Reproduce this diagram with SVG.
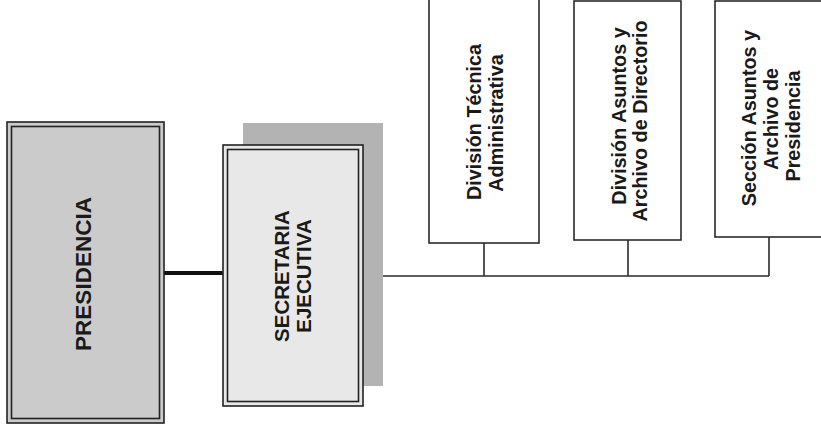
<svg xmlns="http://www.w3.org/2000/svg" width="821" height="432" viewBox="0 0 821 432">
<style>
.t{font-family:"Liberation Sans",Arial,sans-serif;font-weight:bold;fill:#1a1a1a;text-anchor:middle}
.box{fill:#ffffff;stroke:#2a2a2a;stroke-width:1.6}
.ln{stroke:#2a2a2a;stroke-width:1.6;fill:none}
</style>
<rect width="821" height="432" fill="#ffffff"/>
<g id="connectors">
<line x1="164" y1="273" x2="224" y2="273" stroke="#111" stroke-width="4"/>
<polyline class="ln" points="363,276 769,276"/>
<line class="ln" x1="484" y1="243" x2="484" y2="276"/>
<line class="ln" x1="628" y1="240" x2="628" y2="276"/>
<line class="ln" x1="769" y1="237" x2="769" y2="276"/>
</g>
<g id="presidencia">
<rect x="7" y="122" width="157" height="301" fill="#cbcbcb" stroke="#222" stroke-width="1.6"/>
<rect x="11.5" y="126.5" width="148" height="292" fill="none" stroke="#222" stroke-width="1.6"/>
<text class="t" font-size="22.5" transform="translate(91,274) rotate(-90)">PRESIDENCIA</text>
</g>
<g id="secretaria">
<rect x="243" y="123" width="140" height="263" fill="#b3b3b3"/>
<rect x="223" y="145" width="140" height="261" fill="#e8e8e8" stroke="#222" stroke-width="1.6"/>
<rect x="227.5" y="149.5" width="131" height="252" fill="none" stroke="#222" stroke-width="1.6"/>
<text class="t" font-size="20.5" transform="translate(289,276) rotate(-90)">SECRETARIA</text>
<text class="t" font-size="20.5" transform="translate(311,276) rotate(-90)">EJECUTIVA</text>
</g>
<g id="div-tecnica">
<rect class="box" x="429" y="-2" width="110" height="245"/>
<text class="t" font-size="19.8" transform="translate(481,122) rotate(-90)">División Técnica</text>
<text class="t" font-size="19.8" transform="translate(503,123) rotate(-90)">Administrativa</text>
</g>
<g id="div-asuntos">
<rect class="box" x="574" y="1" width="107" height="239"/>
<text class="t" font-size="19.8" transform="translate(626,116) rotate(-90)">División Asuntos y</text>
<text class="t" font-size="19.8" transform="translate(647,121) rotate(-90)">Archivo de Directorio</text>
</g>
<g id="sec-asuntos">
<rect class="box" x="715" y="1" width="110" height="236"/>
<text class="t" font-size="19.8" transform="translate(756,118) rotate(-90)">Sección Asuntos y</text>
<text class="t" font-size="19.8" transform="translate(778,119) rotate(-90)">Archivo de</text>
<text class="t" font-size="19.8" transform="translate(800,126) rotate(-90)">Presidencia</text>
</g>
</svg>
